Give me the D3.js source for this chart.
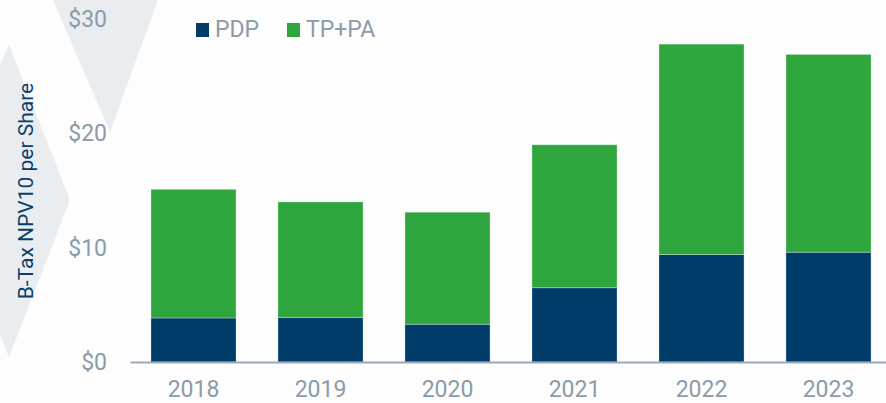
<!DOCTYPE html>
<html>
<head>
<meta charset="utf-8">
<script src="https://cdn.jsdelivr.net/npm/d3@7"></script>
<style>
  body { margin: 0; background: #fdfdfd; }
  svg { display: block; font-family: Roboto, sans-serif; }
</style>
</head>
<body>
<div id="chart"></div>
<script>
// data
var years = ['2018', '2019', '2020', '2021', '2022', '2023']
var pdp = [3.85, 3.9, 3.3, 6.5, 9.4, 9.6]
var tpPa = [11.25, 10.1, 9.8, 12.5, 18.4, 17.3]   // on top of PDP
var yTicks = [0, 10, 20, 30]
var series = ['PDP', 'TP+PA']
var colors = ['#003c69', '#2ea63d']

var width = 886, height = 403

var svg = d3.select('#chart')
    .append('svg')
    .attr('width', width)
    .attr('height', height)

// light chevron shapes in the background
var shapes = [
    [[53, 0], [158, 0], [110, 132]],
    [[0, 65], [9, 45], [70, 200], [9, 357], [0, 335]]
]
svg.selectAll('.bg')
    .data(shapes)
    .enter()
    .append('path')
    .attr('class', 'bg')
    .attr('d', function (d) { return d3.line()(d) + 'Z' })
    .style('fill', '#e9edf0')

var x = d3.scaleBand()
    .domain(years)
    .range([130, 892])
    .paddingInner(0.33)
    .paddingOuter(0.165)

var y = d3.scaleLinear()
    .domain([0, 30])
    .range([362, 19])

// stack the two series
var rows = years.map(function (yr, i) { return { year: yr, PDP: pdp[i], 'TP+PA': tpPa[i] } })
var stacked = d3.stack().keys(series)(rows)

svg.selectAll('.layer')
    .data(stacked)
    .enter()
    .append('g')
    .attr('class', 'layer')
    .style('fill', function (d, i) { return colors[i] })
    .selectAll('rect')
    .data(function (d) { return d })
    .enter()
    .append('rect')
    .attr('x', function (d) { return x(d.data.year) })
    .attr('width', x.bandwidth())
    .attr('y', function (d) { return y(d[1]) })
    .attr('height', function (d) { return y(d[0]) - y(d[1]) })
    .attr('stroke', '#ffffff')
    .attr('stroke-opacity', 0.3)
    .attr('stroke-width', 1)

// x axis with baseline
var xAxis = svg.append('g')
    .attr('transform', 'translate(0,362)')
    .call(d3.axisBottom(x).tickSize(0).tickSizeOuter(0).tickPadding(19))
xAxis.select('.domain').attr('stroke', '#9aaabb').attr('stroke-width', 2)
xAxis.selectAll('text')
    .style('font-size', '23px')
    .style('fill', '#8a9bab')
    .style('font-family', 'Roboto, sans-serif')

// y axis, labels only
var yAxis = svg.append('g')
    .attr('transform', 'translate(130,0)')
    .call(d3.axisLeft(y).tickValues(yTicks).tickSize(0).tickPadding(23)
        .tickFormat(function (d) { return '$' + d }))
yAxis.select('.domain').remove()
yAxis.selectAll('text')
    .style('font-size', '23px')
    .style('fill', '#8a9bab')
    .style('font-family', 'Roboto, sans-serif')

// axis title
svg.append('text')
    .attr('transform', 'translate(33,191) rotate(-90)')
    .attr('text-anchor', 'middle')
    .style('font-size', '21px')
    .style('fill', '#0b3f6b')
    .text('B-Tax NPV10 per Share')

// legend
var legendX = [196, 287]
var legend = svg.selectAll('.legend')
    .data(series)
    .enter()
    .append('g')
    .attr('class', 'legend')
    .attr('transform', function (d, i) { return `translate(${legendX[i]},23)` })
legend.append('rect')
    .attr('width', 13)
    .attr('height', 14)
    .style('fill', function (d, i) { return colors[i] })
legend.append('text')
    .attr('x', 19)
    .attr('y', 14)
    .style('font-size', '23px')
    .style('fill', '#8a9bab')
    .text(function (d) { return d })
</script>
</body>
</html>
